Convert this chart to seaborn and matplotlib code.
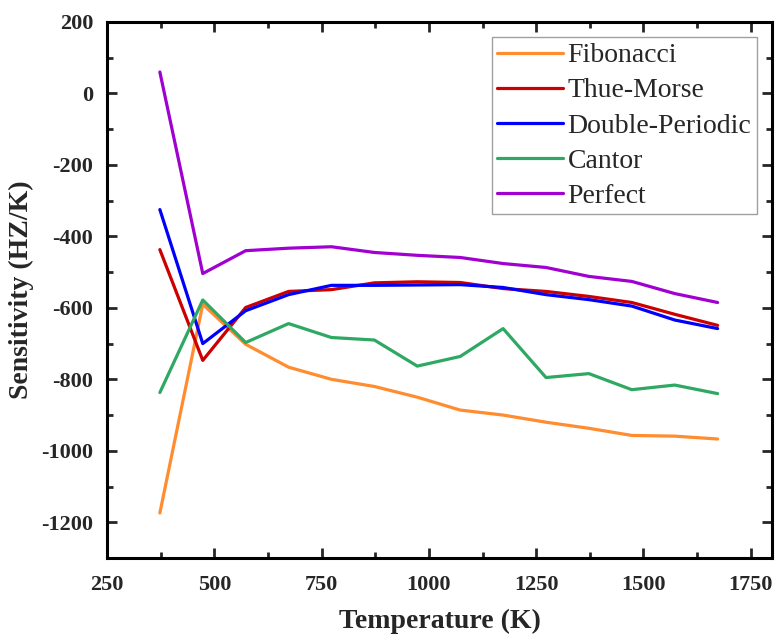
import matplotlib
matplotlib.use("Agg")
import matplotlib.pyplot as plt
import seaborn as sns
import pandas as pd
from matplotlib.ticker import MultipleLocator

temperature = [373, 473, 573, 673, 773, 873, 973, 1073, 1173, 1273, 1373, 1473, 1573, 1673]
fibonacci = [-1174, -590, -702, -766, -800, -820, -850, -886, -900, -920, -937, -957, -959, -967]
thue_morse = [-437, -747, -599, -554, -549, -530, -527, -529, -546, -554, -568, -585, -618, -649]
double_periodic = [-325, -700, -608, -563, -537, -537, -536, -535, -543, -563, -577, -595, -634, -658]
cantor = [-837, -578, -697, -644, -683, -690, -763, -736, -658, -795, -784, -829, -816, -840]
perfect = [60, -504, -440, -433, -429, -445, -453, -459, -476, -487, -512, -526, -560, -585]

series_names = ["Fibonacci", "Thue-Morse", "Double-Periodic", "Cantor", "Perfect"]
series_values = [fibonacci, thue_morse, double_periodic, cantor, perfect]
colors = ["#FF8C2E", "#CC0000", "#0000FF", "#2EA862", "#A000D0"]

rows = []
for name, vals in zip(series_names, series_values):
    for t, v in zip(temperature, vals):
        rows.append({"Temperature": t, "Sensitivity": v, "Series": name})
df = pd.DataFrame(rows)

sns.set_style("ticks")
plt.rcParams["font.family"] = ["Liberation Serif", "DejaVu Serif"]
plt.rcParams["axes.unicode_minus"] = False

fig = plt.figure(figsize=(7.76, 6.37), dpi=100)
ax = fig.add_axes([0.138, 0.124, 0.857, 0.8415])

sns.lineplot(data=df, x="Temperature", y="Sensitivity", hue="Series",
             hue_order=series_names, palette=colors, linewidth=2.3, ax=ax,
             legend=True)

ax.set_xlim(250, 1800)
ax.set_ylim(-1300, 200)
ax.xaxis.set_major_locator(MultipleLocator(250))
ax.xaxis.set_minor_locator(MultipleLocator(125))
ax.yaxis.set_major_locator(MultipleLocator(200))
ax.yaxis.set_minor_locator(MultipleLocator(100))

for s in ax.spines.values():
    s.set_visible(True)
    s.set_linewidth(2.2)
    s.set_color("black")

ax.tick_params(which="both", direction="in", top=True, right=True, width=2.0)
ax.tick_params(which="major", length=7)
ax.tick_params(which="minor", length=4)
ax.tick_params(axis="x", which="major", pad=12)
ax.tick_params(axis="y", which="major", pad=10)
ax.tick_params(labeltop=False, labelright=False)

for lbl in ax.get_xticklabels() + ax.get_yticklabels():
    lbl.set_fontsize(16)
    lbl.set_fontweight("bold")

ax.set_xlabel("Temperature (K)", fontsize=20, fontweight="bold", labelpad=10)
ax.set_ylabel("Sensitivity (HZ/K)", fontsize=20, fontweight="bold", labelpad=5)

leg = ax.legend(loc="upper right", fontsize=20, frameon=True, fancybox=False,
                handlelength=2.35, labelspacing=0.35, handletextpad=0.18,
                borderpad=0.2, borderaxespad=0.55, title=None)
leg.get_frame().set_edgecolor("#888888")
leg.get_frame().set_linewidth(1.0)
for line in leg.get_lines():
    line.set_linewidth(2.3)

fig.savefig("out.png", dpi=100)
